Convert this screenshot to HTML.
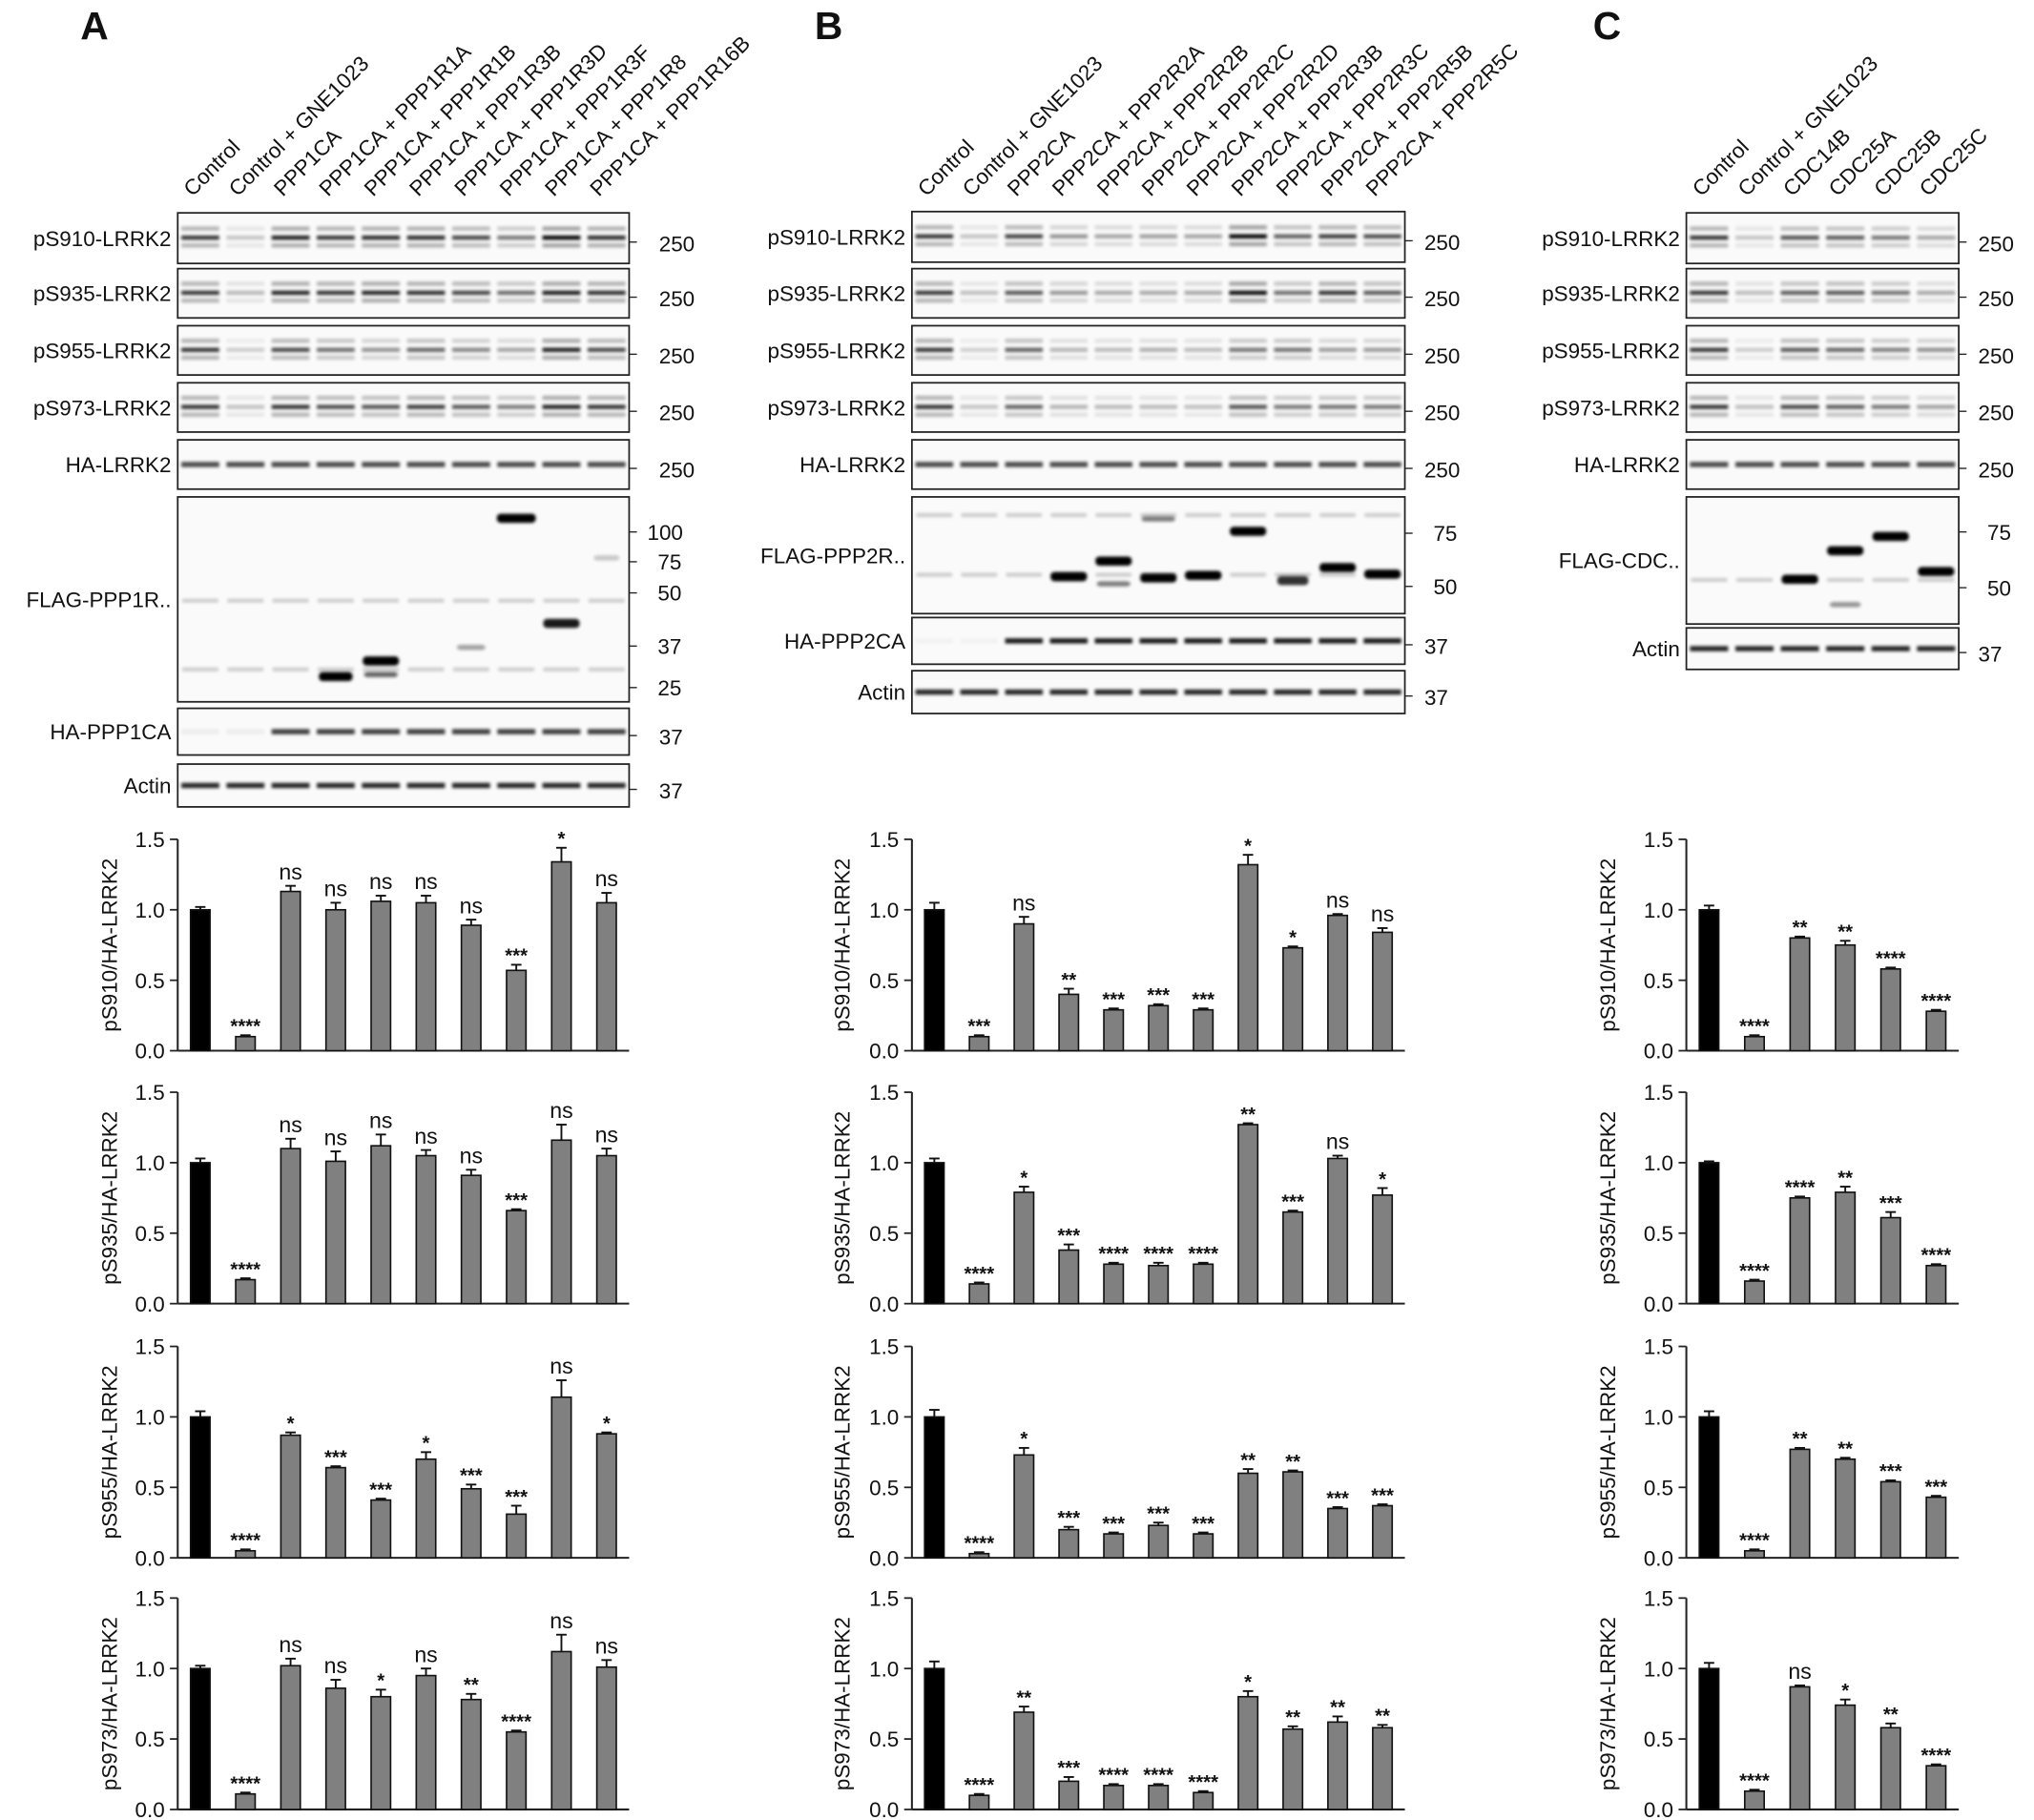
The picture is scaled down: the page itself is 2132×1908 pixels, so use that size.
<!DOCTYPE html>
<html><head><meta charset="utf-8"><style>
html,body{margin:0;padding:0;background:#fff}
svg{display:block}
text{font-family:"Liberation Sans",sans-serif;fill:#111}
</style></head><body>
<svg id="fig" width="2132" height="1908" viewBox="0 0 1568 1403" xmlns="http://www.w3.org/2000/svg">
<defs><filter id="bl" x="-10%" y="-200%" width="120%" height="500%"><feGaussianBlur stdDeviation="1.1"/></filter></defs>
</svg>
<script>
// ---------- data ----------
const laneLabelsA = ["Control","Control + GNE1023","PPP1CA","PPP1CA + PPP1R1A","PPP1CA + PPP1R1B","PPP1CA + PPP1R3B","PPP1CA + PPP1R3D","PPP1CA + PPP1R3F","PPP1CA + PPP1R8","PPP1CA + PPP1R16B"];
const laneLabelsB = ["Control","Control + GNE1023","PPP2CA","PPP2CA + PPP2R2A","PPP2CA + PPP2R2B","PPP2CA + PPP2R2C","PPP2CA + PPP2R2D","PPP2CA + PPP2R3B","PPP2CA + PPP2R3C","PPP2CA + PPP2R5B","PPP2CA + PPP2R5C"];
const laneLabelsC = ["Control","Control + GNE1023","CDC14B","CDC25A","CDC25B","CDC25C"];
const yTicks = [0,0.5,1.0,1.5];
const yTickLabels = ["0.0","0.5","1.0","1.5"];
const chartTitles = ["pS910/HA-LRRK2","pS935/HA-LRRK2","pS955/HA-LRRK2","pS973/HA-LRRK2"];

const A910=[1.0,0.1,1.13,1.0,1.06,1.05,0.89,0.57,1.34,1.05];
const A910e=[0.02,0.01,0.04,0.05,0.04,0.05,0.04,0.04,0.1,0.07];
const A910s=["","****","ns","ns","ns","ns","ns","***","*","ns"];
const A935=[1.0,0.17,1.1,1.01,1.12,1.05,0.91,0.66,1.16,1.05];
const A935e=[0.03,0.01,0.07,0.07,0.08,0.04,0.04,0.01,0.11,0.05];
const A935s=["","****","ns","ns","ns","ns","ns","***","ns","ns"];
const A955=[1.0,0.05,0.87,0.64,0.41,0.7,0.49,0.31,1.14,0.88];
const A955e=[0.04,0.01,0.02,0.01,0.01,0.05,0.03,0.06,0.12,0.01];
const A955s=["","****","*","***","***","*","***","***","ns","*"];
const A973=[1.0,0.11,1.02,0.86,0.8,0.95,0.78,0.55,1.12,1.01];
const A973e=[0.02,0.01,0.05,0.06,0.05,0.05,0.04,0.01,0.12,0.05];
const A973s=["","****","ns","ns","*","ns","**","****","ns","ns"];

const B910=[1.0,0.1,0.9,0.4,0.29,0.32,0.29,1.32,0.73,0.96,0.84];
const B910e=[0.05,0.01,0.05,0.04,0.01,0.01,0.01,0.07,0.01,0.01,0.03];
const B910s=["","***","ns","**","***","***","***","*","*","ns","ns"];
const B935=[1.0,0.14,0.79,0.38,0.28,0.27,0.28,1.27,0.65,1.03,0.77];
const B935e=[0.03,0.01,0.04,0.04,0.01,0.02,0.01,0.01,0.01,0.02,0.05];
const B935s=["","****","*","***","****","****","****","**","***","ns","*"];
const B955=[1.0,0.03,0.73,0.2,0.17,0.23,0.17,0.6,0.61,0.35,0.37];
const B955e=[0.05,0.01,0.05,0.02,0.01,0.02,0.01,0.03,0.01,0.01,0.01];
const B955s=["","****","*","***","***","***","***","**","**","***","***"];
const B973=[1.0,0.1,0.69,0.2,0.17,0.17,0.12,0.8,0.57,0.62,0.58];
const B973e=[0.05,0.01,0.04,0.03,0.01,0.01,0.01,0.04,0.02,0.04,0.02];
const B973s=["","****","**","***","****","****","****","*","**","**","**"];

const C910=[1.0,0.1,0.8,0.75,0.58,0.28];
const C910e=[0.03,0.01,0.01,0.03,0.01,0.01];
const C910s=["","****","**","**","****","****"];
const C935=[1.0,0.16,0.75,0.79,0.61,0.27];
const C935e=[0.01,0.01,0.01,0.04,0.04,0.01];
const C935s=["","****","****","**","***","****"];
const C955=[1.0,0.05,0.77,0.7,0.54,0.43];
const C955e=[0.04,0.01,0.01,0.01,0.01,0.01];
const C955s=["","****","**","**","***","***"];
const C973=[1.0,0.13,0.87,0.74,0.58,0.31];
const C973e=[0.04,0.01,0.01,0.04,0.03,0.01];
const C973s=["","****","ns","*","**","****"];

// ---------- helpers ----------
const NS="http://www.w3.org/2000/svg";
const svg=document.getElementById('fig');
function mk(tag,attrs,parent,txt){const e=document.createElementNS(NS,tag);for(const k in attrs)e.setAttribute(k,attrs[k]);if(txt!==undefined)e.textContent=txt;(parent||svg).appendChild(e);return e;}

const panels=[
 {letter:"A",lx:62,x0:137,x1:485,lanes:laneLabelsA,mk:500,ylab:90,
  rows:[["pS910-LRRK2",164,203,"250"],["pS935-LRRK2",207,245,"250"],["pS955-LRRK2",251,289,"250"],["pS973-LRRK2",295,333,"250"],["HA-LRRK2",339,377,"250"],["FLAG-PPP1R..",383,541,null],["HA-PPP1CA",546,582,"37"],["Actin",589,622,"37"]],
  flagMarks:[["100",410],["75",433],["50",457],["37",498],["25",530]],
  flagBands:[[7,399,1,30],[3,521,1,26],[4,509,1,28],[4,521,0.6,26],[6,500,0.35,22],[8,480,0.9,28],[9,431,0.2,20]],
  flagBg:[463,516],
  data:[[A910,A910e,A910s],[A935,A935e,A935s],[A955,A955e,A955s],[A973,A973e,A973s]]},
 {letter:"B",lx:628,x0:703,x1:1083,lanes:laneLabelsB,mk:1090,ylab:655,
  rows:[["pS910-LRRK2",163,202,"250"],["pS935-LRRK2",207,245,"250"],["pS955-LRRK2",251,289,"250"],["pS973-LRRK2",295,333,"250"],["HA-LRRK2",339,377,"250"],["FLAG-PPP2R..",383,473,null],["HA-PPP2CA",476,512,"37"],["Actin",517,550,"37"]],
  flagMarks:[["75",411],["50",452]],
  flagBands:[[3,444,1,28],[4,432,1,28],[4,451,0.5,26],[5,401,0.5,26],[5,445,1,28],[6,443,1,28],[7,409,1,28],[8,447,0.8,24],[9,437,1,28],[10,442,1,28]],
  flagBg:[397,443],
  data:[[B910,B910e,B910s],[B935,B935e,B935s],[B955,B955e,B955s],[B973,B973e,B973s]]},
 {letter:"C",lx:1228,x0:1300,x1:1510,lanes:laneLabelsC,mk:1517,ylab:1245,
  rows:[["pS910-LRRK2",164,203,"250"],["pS935-LRRK2",207,245,"250"],["pS955-LRRK2",251,289,"250"],["pS973-LRRK2",295,333,"250"],["HA-LRRK2",339,377,"250"],["FLAG-CDC..",383,481,null],["Actin",484,516,"37"]],
  flagMarks:[["75",410],["50",453]],
  flagBands:[[2,446,1,28],[3,424,1,28],[3,467,0.4,24],[4,413,1,28],[5,440,1,28]],
  flagBg:[447],
  data:[[C910,C910e,C910s],[C935,C935e,C935s],[C955,C955e,C955s],[C973,C973e,C973s]]}
];
const chartTops=[647,842,1038,1232];
const chartH=163;

panels.forEach((p,pi)=>{
 const g=mk('g',{});
 
 
 const n=p.lanes.length, lw=(p.x1-p.x0)/n;
 const cx=i=>p.x0+lw*(i+0.5);
 const L=mk('text',{x:p.lx,y:30,'font-size':30,'font-weight':'bold'},g,p.letter);
 
 
 p.lanes.forEach((lab,i)=>{
  const t=mk('text',{x:0,y:0,'font-size':16.5,transform:`translate(${cx(i)-6},152) rotate(-45)`},g,lab);
  
  
 });
 // blots
 p.rows.forEach((r,ri)=>{
  const [name,y0,y1,mark]=r;
  const bg=mk('g',{},g);
  
  
  mk('rect',{x:p.x0,y:y0,width:p.x1-p.x0,height:y1-y0,fill:'#fafafa',stroke:'#222','stroke-width':1.3},bg);
  const lt=mk('text',{x:p.x0-5,y:(y0+y1)/2+6,'font-size':16.5,'text-anchor':'end'},bg,name);
  
  
  if(mark){
   mk('line',{x1:p.x1,x2:p.x1+6,y1:(y0+y1)/2+3,y2:(y0+y1)/2+3,stroke:'#222'},bg);
   const mt=mk('text',{x:p.mk+8,y:(y0+y1)/2+10,'font-size':16.5},bg,mark);
   
   
  }
  if(mark){
   const isP=name.startsWith('pS');
   const isHA=name.startsWith('HA');
   for(let i=0;i<n;i++){
    let inten;
    if(name==='Actin') inten=0.85;
    else if(isHA && name!=='HA-LRRK2'){ inten = (p.letter==='A'?(i<2?0.05:0.75):(i<2?0.03:0.9)); }
    else if(name==='HA-LRRK2') inten=0.7;
    else {const d=p.data[Math.min(ri,3)][0][i]; inten=Math.min(1,0.15+0.65*d);}
    const cy=(y0+y1)/2;
    const ys=isP?[cy-7,cy,cy+6]:[cy];
    ys.forEach((yy,k)=>{
     const a=isP?(k===1?inten:inten*0.35):inten;
     mk('rect',{x:cx(i)-lw*0.42,y:yy-2,width:lw*0.84,height:isP?3.2:4,fill:'#000',opacity:a.toFixed(2),filter:'url(#bl)'},bg);
    });
   }
  } else {
   p.flagMarks.forEach(m=>{
    mk('line',{x1:p.x1,x2:p.x1+6,y1:m[1],y2:m[1],stroke:'#222'},bg);
    const mt=mk('text',{x:p.x1+(m[0].length>2?14:22),y:m[1]+6,'font-size':16.5},bg,m[0]);
    
    
   });
   p.flagBg.forEach(yy=>{for(let i=0;i<n;i++)mk('rect',{x:cx(i)-lw*0.4,y:yy-1.5,width:lw*0.8,height:3,fill:'#000',opacity:0.18,filter:'url(#bl)'},bg);});
   p.flagBands.forEach(b=>{
    mk('rect',{x:cx(b[0])-b[3]/2,y:b[1]-3,width:b[3],height:b[2]>0.7?7:4,rx:3,fill:'#000',opacity:b[2],filter:'url(#bl)'},bg);
   });
  }
 });
 // charts
 p.data.forEach((ser,ci)=>{
  const [vals,errs,sigs]=ser;
  const top=chartTops[ci], bot=top+chartH;
  const y=v=>bot-(v/1.5)*chartH;
  const cg=mk('g',{},g);
  
  
  mk('line',{x1:p.x0,x2:p.x0,y1:top,y2:bot,stroke:'#222','stroke-width':1.5},cg);
  mk('line',{x1:p.x0,x2:p.x1,y1:bot,y2:bot,stroke:'#222','stroke-width':1.5},cg);
  yTicks.forEach((t,ti)=>{
   mk('line',{x1:p.x0-6,x2:p.x0,y1:y(t),y2:y(t),stroke:'#222','stroke-width':1.3},cg);
   const tt=mk('text',{x:p.x0-10,y:y(t)+6,'font-size':16.5,'text-anchor':'end'},cg,yTickLabels[ti]);
   
   
  });
  const yt=mk('text',{x:0,y:0,'font-size':16.5,'text-anchor':'middle',transform:`translate(${p.ylab},${(top+bot)/2}) rotate(-90)`},cg,chartTitles[ci]);
  
  
  vals.forEach((v,i)=>{
   const bw=15, x=cx(i);
   const r=mk('rect',{x:x-bw/2,y:y(v),width:bw,height:bot-y(v),fill:i===0?'#000':'#808080',stroke:'#111','stroke-width':1.2},cg);
   
   
   const ye=y(v+errs[i]);
   mk('line',{x1:x,x2:x,y1:y(v),y2:ye,stroke:'#111','stroke-width':1.4},cg);
   mk('line',{x1:x-4,x2:x+4,y1:ye,y2:ye,stroke:'#111','stroke-width':1.4},cg);
   if(sigs[i]){
    const isNs=sigs[i]==='ns';
    const st=mk('text',{x:x,y:ye-(isNs?5:2),'font-size':isNs?17:15,'font-weight':isNs?'normal':'bold','text-anchor':'middle'},cg,sigs[i]);
    
    
   }
  });
 });
});
</script>
</body></html>
